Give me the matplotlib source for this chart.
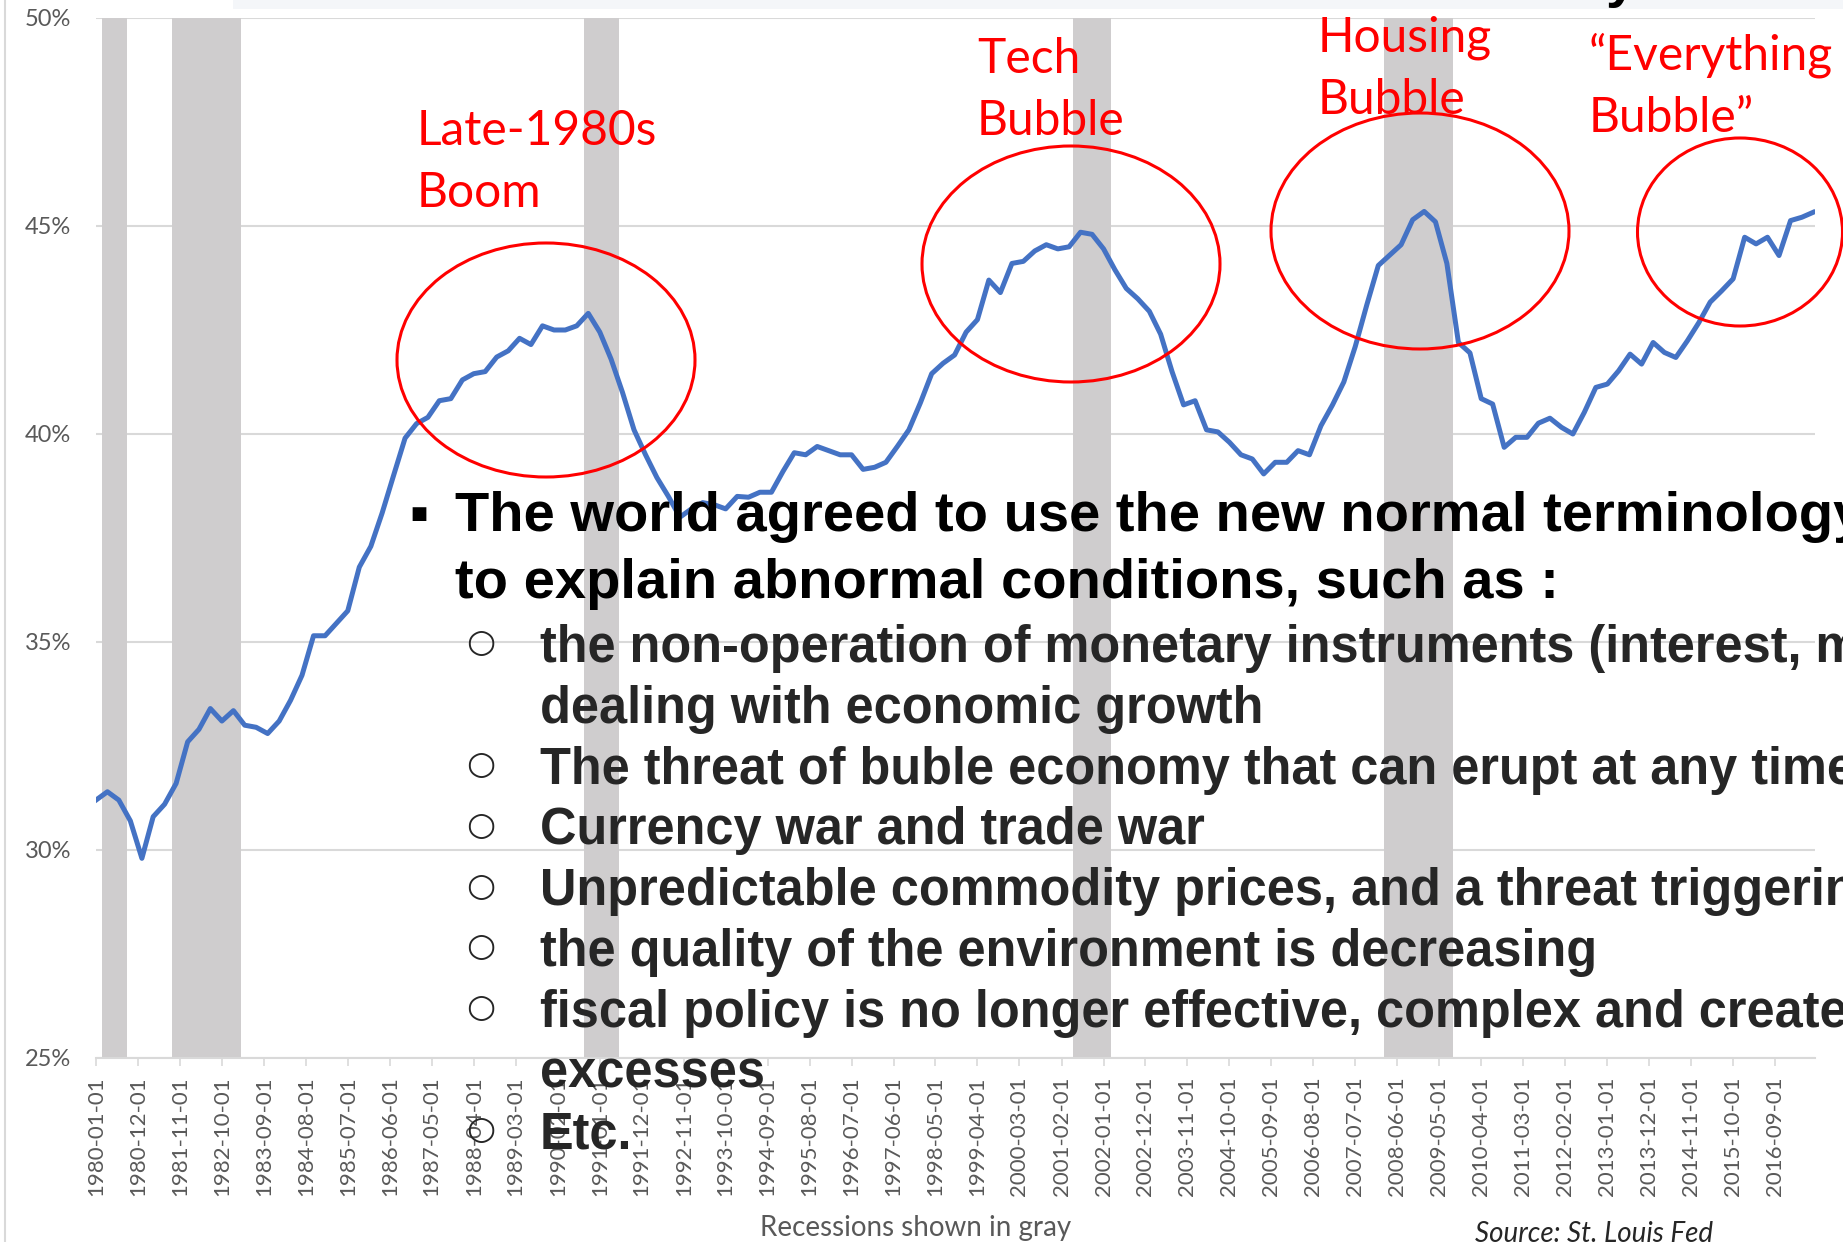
import matplotlib
matplotlib.use("Agg")
import matplotlib.pyplot as plt
from matplotlib.patches import Ellipse, Rectangle
from matplotlib.lines import Line2D
import pandas as pd

W, H, DPI = 1843, 1242, 100

# quarterly share, 1980Q1 .. 2017Q3
share = [31.2, 31.4, 31.2, 30.7, 29.8, 30.8, 31.1, 31.6, 32.6, 32.9,
         33.4, 33.1, 33.35, 33.0, 32.95, 32.8, 33.1, 33.6, 34.2, 35.15,
         35.15, 35.45, 35.75, 36.8, 37.3, 38.1, 39.0, 39.9, 40.25, 40.4,
         40.8, 40.85, 41.3, 41.45, 41.5, 41.85, 42.0, 42.3, 42.15, 42.6,
         42.5, 42.5, 42.6, 42.9, 42.45, 41.8, 41.0, 40.1, 39.5, 38.95,
         38.5, 38.0, 38.2, 38.35, 38.3, 38.2, 38.5, 38.48, 38.6, 38.6,
         39.1, 39.55, 39.5, 39.7, 39.6, 39.5, 39.5, 39.15, 39.2, 39.32,
         39.7, 40.1, 40.75, 41.45, 41.7, 41.9, 42.45, 42.75, 43.7, 43.4,
         44.1, 44.15, 44.4, 44.55, 44.45, 44.5, 44.85, 44.8, 44.45, 43.95,
         43.5, 43.25, 42.95, 42.4, 41.5, 40.7, 40.8, 40.1, 40.05, 39.8,
         39.5, 39.4, 39.04, 39.32, 39.32, 39.6, 39.5, 40.2, 40.7, 41.25,
         42.1, 43.1, 44.05, 44.3, 44.55, 45.15, 45.35, 45.1, 44.1, 42.2,
         41.95, 40.85, 40.72, 39.68, 39.92, 39.92, 40.26, 40.38, 40.16, 40.0,
         40.52, 41.12, 41.2, 41.52, 41.92, 41.68, 42.2, 41.96, 41.84, 42.24,
         42.68, 43.17, 43.44, 43.73, 44.73, 44.57, 44.73, 44.29, 45.13, 45.21,
         45.33]
quarters = pd.date_range("1980-01-01", periods=len(share), freq="QS")

tick_labels = ["1980-01-01", "1980-12-01", "1981-11-01", "1982-10-01", "1983-09-01",
               "1984-08-01", "1985-07-01", "1986-06-01", "1987-05-01", "1988-04-01",
               "1989-03-01", "1990-02-01", "1991-01-01", "1991-12-01", "1992-11-01",
               "1993-10-01", "1994-09-01", "1995-08-01", "1996-07-01", "1997-06-01",
               "1998-05-01", "1999-04-01", "2000-03-01", "2001-02-01", "2002-01-01",
               "2002-12-01", "2003-11-01", "2004-10-01", "2005-09-01", "2006-08-01",
               "2007-07-01", "2008-06-01", "2009-05-01", "2010-04-01", "2011-03-01",
               "2012-02-01", "2013-01-01", "2013-12-01", "2014-11-01", "2015-10-01",
               "2016-09-01"]
y_ticks = [25, 30, 35, 40, 45, 50]

recessions = [("1980-02-15", "1980-09-01"), ("1981-09-01", "1983-03-01"),
              ("1990-09-01", "1991-06-01"), ("2001-05-01", "2002-03-01"),
              ("2008-02-15", "2009-08-15")]

bubble_labels = ["Late-1980s\nBoom", "Tech\nBubble", "Housing\nBubble", "\u201cEverything\nBubble\u201d"]

headline = ["The world agreed to use the new normal terminology",
            "to explain abnormal conditions, such as :"]
points = [["the non-operation of monetary instruments (interest, money supply) in",
           "dealing with economic growth"],
          ["The threat of buble economy that can erupt at any time"],
          ["Currency war and trade war"],
          ["Unpredictable commodity prices, and a threat triggering inflation"],
          ["the quality of the environment is decreasing"],
          ["fiscal policy is no longer effective, complex and creates",
           "excesses"],
          ["Etc."]]


def fx(px):
    return px / W


def fy(py):
    return 1 - py / H


fig = plt.figure(figsize=(W / DPI, H / DPI), dpi=DPI)
ax = fig.add_axes([fx(96), fy(1058), fx(1815 - 96), (1058 - 18) / H])

for s, e in recessions:
    ax.axvspan(pd.Timestamp(s), pd.Timestamp(e), color="#cfcdce", lw=0, zorder=1)
ax.plot(quarters, share, color="#4472c4", lw=3.6, zorder=3, solid_joinstyle="round")

ax.set_ylim(25, 50)
ax.set_xlim(pd.Timestamp("1980-01-01"), pd.Timestamp("2017-07-15"))
ax.set_yticks(y_ticks)
ax.set_yticklabels([f"{v}%" for v in y_ticks])
ax.set_xticks(pd.to_datetime(tick_labels))
ax.set_xticklabels(tick_labels, rotation=90)
ax.yaxis.grid(True, color="#d9d9d9", lw=1.5)
ax.set_axisbelow(True)
for side in ["top", "right", "left"]:
    ax.spines[side].set_visible(False)
ax.spines["bottom"].set_color("#d9d9d9")
ax.spines["bottom"].set_linewidth(1.5)
ax.tick_params(axis="y", length=0, pad=18, labelsize=17, labelcolor="#595959")
ax.tick_params(axis="x", length=6, width=1.2, color="#d9d9d9", pad=7,
               labelsize=16, labelcolor="#595959")
for lab in ax.get_xticklabels() + ax.get_yticklabels():
    lab.set_fontfamily("Lato")

# frame bits of the screenshot
fig.add_artist(Line2D([fx(5), fx(5)], [0, 1], color="#d9d9d9", lw=1.5))
fig.add_artist(Rectangle((fx(233), fy(9)), 1 - fx(233), 9 / H, color="#f4f6f9", lw=0,
                         transform=fig.transFigure))
fig.text(fx(1606), fy(-4), "y", fontsize=40, fontweight="bold",
         family=["Liberation Sans", "DejaVu Sans"], va="baseline")

# red circles and labels
circles = [(546, 360, 298, 234), (1071, 264, 298, 236), (1420, 231, 298, 236),
           (1740, 232, 205, 188)]
for cx, cy, w, h in circles:
    fig.add_artist(Ellipse((fx(cx), fy(cy)), w / W, h / H, fill=False, ec="#ff0000",
                           lw=2.2, transform=fig.transFigure, zorder=5))
# baseline of the second line of each label
label_xy = [(417, 207), (977, 135), (1318, 114), (1589, 132)]
for (lx, ly), txt in zip(label_xy, bubble_labels):
    fig.text(fx(lx), fy(ly), txt, color="#ff0000", fontsize=34.5, family="Lato",
             va="baseline", linespacing=1.5, zorder=6)

# slide text on top
bold = ["Liberation Sans", "DejaVu Sans"]
fig.text(fx(410), fy(519), "\u25a0", fontsize=13, family=["DejaVu Sans"], va="baseline",
         zorder=7)
fig.text(fx(455), fy(531), headline[0], fontsize=40.4, fontweight="bold", family=bold,
         va="baseline", zorder=7)
fig.text(fx(455), fy(598), headline[1], fontsize=40.4, fontweight="bold", family=bold,
         va="baseline", zorder=7)
base = 662
for item in points:
    fig.text(fx(481), fy(base - 19), "\u25cb", fontsize=24, family=["DejaVu Sans"],
             color="#262626", va="center", ha="center", zorder=7)
    for line in item:
        fig.text(fx(540), fy(base), line, fontsize=36.4, fontweight="bold", family=bold,
                 color="#262626", va="baseline", zorder=7)
        base += 60.8
fig.text(fx(405), fy(1252), ".", fontsize=40, fontweight="bold", family=bold,
         va="baseline", zorder=7)

fig.text(fx(916), fy(1236), "Recessions shown in gray", fontsize=20, family="Lato",
         color="#595959", ha="center", va="baseline")
fig.text(fx(1594), fy(1242), "Source: St. Louis Fed", fontsize=20, family="Lato",
         style="italic", color="#262626", ha="center", va="baseline")

fig.savefig("out.png", dpi=DPI)
